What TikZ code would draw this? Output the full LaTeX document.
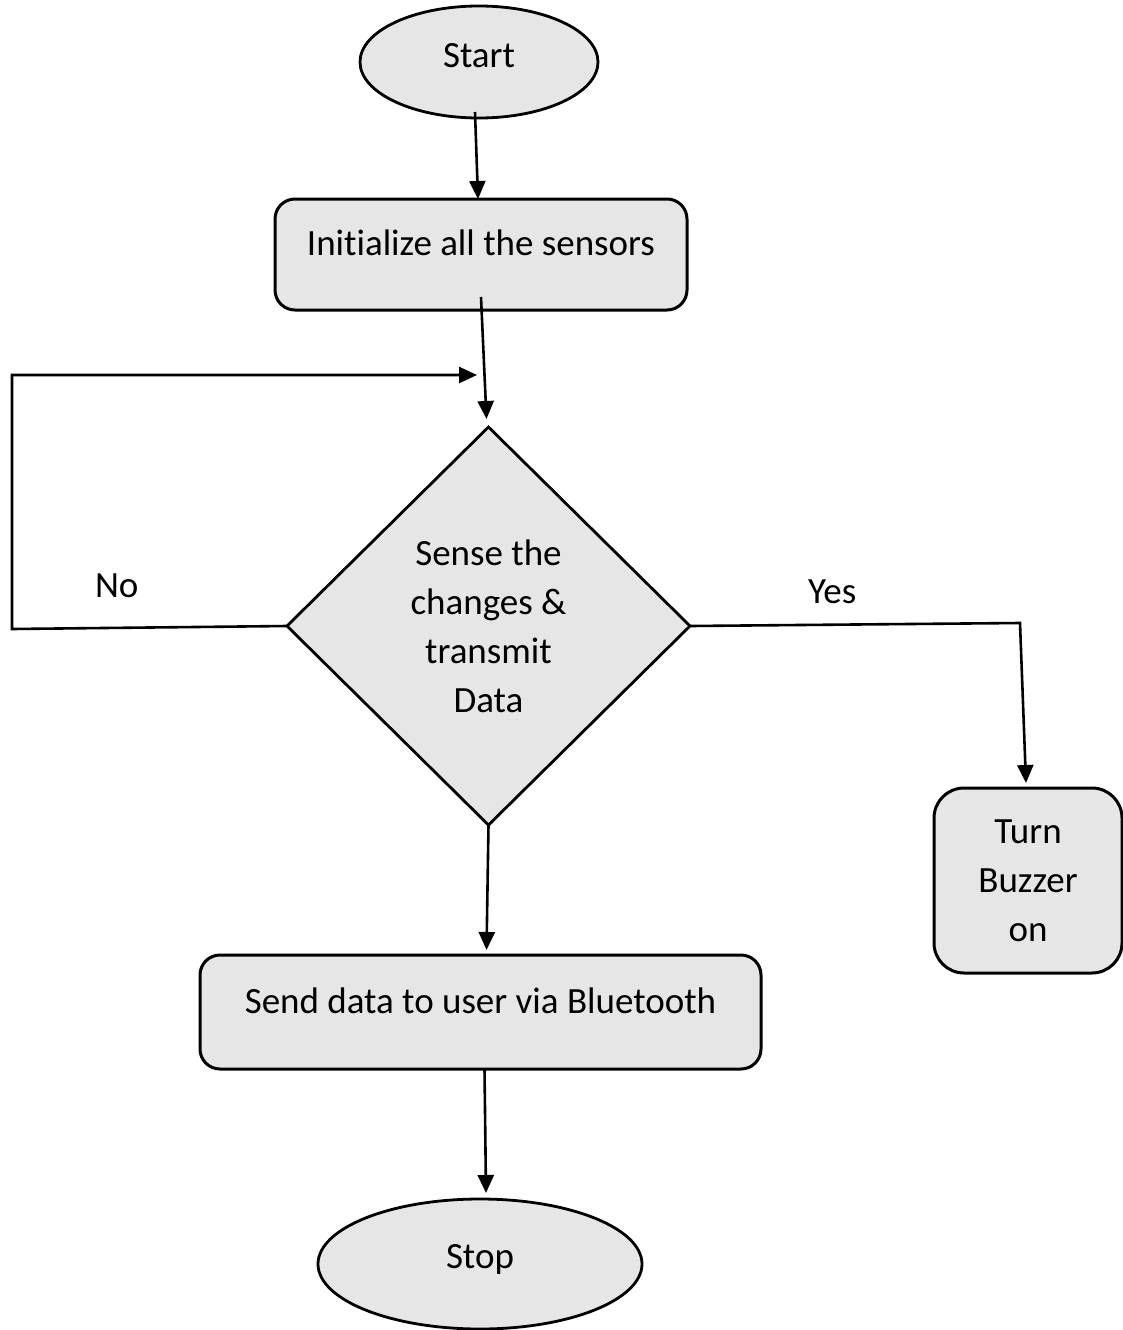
\documentclass[tikz,border=0pt]{standalone}
\usepackage{fontspec}
\setmainfont{Carlito}[Ligatures=NoCommon]
\usepackage{tikz}
\usetikzlibrary{shapes.geometric,arrows.meta}
\definecolor{boxgray}{RGB}{231,230,230}

\begin{document}
\begin{tikzpicture}[x=1pt,y=-1pt,
  every node/.style={font=\fontsize{37}{49}\selectfont, inner sep=0pt, outer sep=0pt},
  term/.style={ellipse, draw, fill=boxgray, line width=2.8pt},
  proc/.style={rectangle, draw, fill=boxgray, line width=3pt, rounded corners=20pt},
  decide/.style={diamond, draw, fill=boxgray, line width=2.8pt, aspect=1, align=center},
  conn/.style={line width=2.6pt},
  arr/.style={conn, -{Triangle[width=16pt,length=18pt]}}]
\useasboundingbox (0,0) rectangle (1123,1330);
\node[term, minimum width=238pt, minimum height=112pt, text height=25pt, text depth=15pt] (start) at (479,62) {Start};
\node[proc, minimum width=412pt, minimum height=111pt, text height=25pt, text depth=24pt] (init) at (481,254.5) {Initialize all the sensors};
\node[decide, minimum width=403pt, minimum height=398pt] (sense) at (488.5,626) {Sense the\\changes \&\\transmit\\Data};
\node[proc, rounded corners=30pt, align=center, minimum width=188pt, minimum height=185pt] (buzz) at (1028,880.5) {Turn\\Buzzer\\on};
\node[proc, minimum width=561pt, minimum height=114pt, text height=25pt, text depth=23pt] (send) at (480.5,1012) {Send data to user via Bluetooth};
\node[term, minimum width=324pt, minimum height=130pt, text height=25pt, text depth=17pt] (stop) at (480,1264) {Stop};
\node[anchor=base west] (no) at (95,597) {No};
\node[anchor=base west] (yes) at (808,603) {Yes};
\coordinate (lc) at (12,629);
\coordinate (lt) at (12,375);
\coordinate (jn) at (477,375);
\coordinate (yc) at (1020,623);
\draw[arr] ([xshift=-4pt,yshift=6pt]start.south) -- ([xshift=-3pt]init.north);
\draw[arr] ([yshift=13pt]init.south) -- ([xshift=-2pt,yshift=8pt]sense.north);
\draw[arr] (sense.west) -- (lc) -- (lt) -- (jn);
\draw[arr] (sense.east) -- (yc) -- ([xshift=-2pt,yshift=5pt]buzz.north);
\draw[arr] (sense.south) -- ([xshift=6pt,yshift=5pt]send.north);
\draw[arr] ([xshift=4pt]send.south) -- ([xshift=6pt,yshift=6pt]stop.north);
\end{tikzpicture}
\end{document}
